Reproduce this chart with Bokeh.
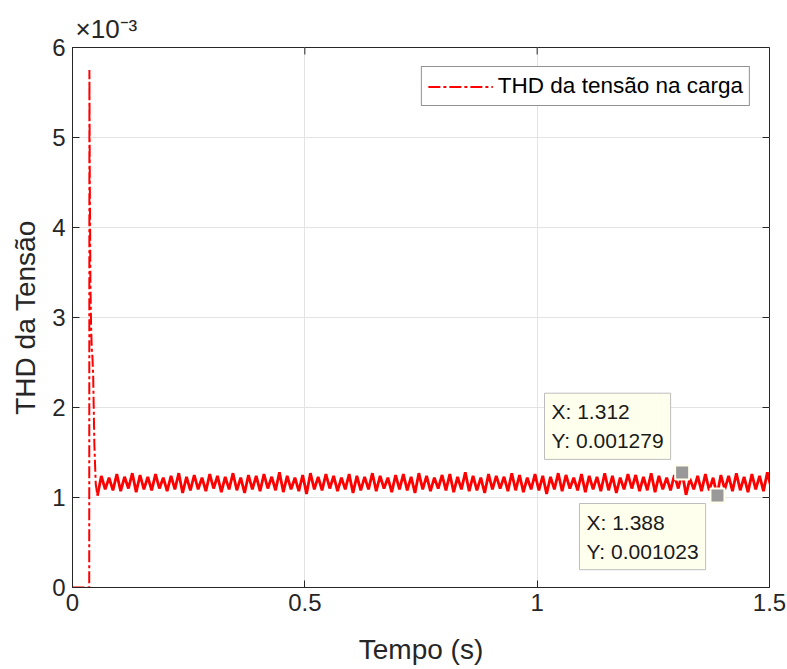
from bokeh.plotting import figure
from bokeh.models import Range1d, FixedTicker, Label, ColumnDataSource, LegendItem, Legend
from bokeh.embed import file_html
from bokeh.resources import INLINE

# ---- data (values in units of 1e-3) ----
spike_t = [0.0, 0.0360, 0.0364, 0.0372, 0.0385, 0.0400, 0.0415, 0.0430, 0.0445, 0.0470, 0.0500, 0.0537]
spike_v = [0.0, 0.0, 5.75, 4.6, 3.4, 2.9, 2.65, 2.55, 2.35, 1.6, 1.15, 1.02]

osc_start = 0.0537
osc_step = 1.0 / 120.0
osc_v = [
    1.02, 1.24, 1.09, 1.22, 1.08, 1.26, 1.07, 1.23, 1.10, 1.27,
    1.06, 1.25, 1.09, 1.23, 1.08, 1.26, 1.10, 1.22, 1.07, 1.24,
    1.09, 1.27, 1.05, 1.23, 1.08, 1.25, 1.09, 1.22, 1.07, 1.26,
    1.10, 1.24, 1.06, 1.23, 1.09, 1.27, 1.08, 1.22, 1.05, 1.25,
    1.09, 1.24, 1.07, 1.26, 1.10, 1.23, 1.08, 1.28, 1.06, 1.24,
    1.09, 1.22, 1.07, 1.25, 1.04, 1.27, 1.09, 1.23, 1.08, 1.26,
    1.10, 1.24, 1.07, 1.22, 1.09, 1.26, 1.05, 1.24, 1.08, 1.23,
    1.09, 1.27, 1.07, 1.24, 1.10, 1.22, 1.06, 1.25, 1.09, 1.26,
    1.08, 1.23, 1.05, 1.27, 1.09, 1.24, 1.07, 1.22, 1.10, 1.25,
    1.08, 1.26, 1.06, 1.23, 1.09, 1.28, 1.07, 1.24, 1.08, 1.22,
    1.05, 1.26, 1.09, 1.24, 1.10, 1.23, 1.07, 1.27, 1.08, 1.25,
    1.06, 1.22, 1.09, 1.26, 1.08, 1.24, 1.04, 1.23, 1.09, 1.27,
    1.07, 1.25, 1.10, 1.22, 1.08, 1.26, 1.06, 1.24, 1.09, 1.23,
    1.07, 1.27, 1.08, 1.24, 1.05, 1.22, 1.09, 1.26, 1.10, 1.25,
    1.07, 1.23, 1.08, 1.27, 1.06, 1.24, 1.09, 1.22, 1.08, 1.25,
    1.10, 1.279, 1.03, 1.21, 1.09, 1.24, 1.07, 1.26, 1.08, 1.22,
    1.023, 1.25, 1.09, 1.24, 1.07, 1.27, 1.08, 1.23, 1.06, 1.26,
    1.09, 1.24, 1.07, 1.28, 1.10,
]

dt_x = [1.312, 1.388]
dt_y = [1.279, 1.023]
dt_text = ["X: 1.312\nY: 0.001279", "X: 1.388\nY: 0.001023"]

x_ticks = [0, 0.5, 1, 1.5]
x_tick_labels = ["0", "0.5", "1", "1.5"]
y_ticks = [0, 1, 2, 3, 4, 5, 6]
y_tick_labels = ["0", "1", "2", "3", "4", "5", "6"]
y_exponent = "×10⁻³"

series_label = "THD da tensão na carga"
x_label = "Tempo (s)"
y_label = "THD da Tensão"

# ---- build ----
X0, X1, Y0, Y1 = 0.0, 1.5, 0.0, 6.0
W, H = 787, 669
BL, BR, BT, BB = 72, 18, 47, 82
TICK = 7  # px

spike_src = ColumnDataSource(dict(t=spike_t, v=spike_v))
osc_src = ColumnDataSource(dict(t=[osc_start + i * osc_step for i in range(len(osc_v))], v=osc_v))

FONT = "Liberation Sans"
AX = "#262626"

p = figure(width=W, height=H, output_backend="svg", toolbar_location=None,
           x_range=Range1d(X0, X1), y_range=Range1d(Y0, Y1),
           min_border_left=BL, min_border_right=BR, min_border_top=BT, min_border_bottom=BB,
           background_fill_color="white", border_fill_color="white")
p.outline_line_color = AX
p.outline_line_width = 1

r_spike = p.line("t", "v", source=spike_src, line_color="#FF0000", line_width=2, line_dash="12 3 3 3")
r_osc = p.line("t", "v", source=osc_src, line_color="#FF0000", line_width=2.8)

p.scatter(x=dt_x, y=dt_y, marker="square", size=14, fill_color="#999999",
          line_color="#FFFFEE", line_width=2)

for ax, ticks, labels in ((p.xaxis[0], x_ticks, x_tick_labels), (p.yaxis[0], y_ticks, y_tick_labels)):
    ax.ticker = FixedTicker(ticks=ticks)
    ax.major_label_overrides = {t: l for t, l in zip(ticks, labels)}
    ax.major_label_text_font = FONT
    ax.major_label_text_font_size = "24px"
    ax.major_label_text_color = AX
    ax.axis_label_text_font = FONT
    ax.axis_label_text_font_size = "28px"
    ax.axis_label_text_font_style = "normal"
    ax.axis_label_text_color = AX
    ax.axis_line_color = AX
    ax.major_tick_line_color = AX
    ax.major_tick_in = TICK
    ax.major_tick_out = 0
    ax.minor_tick_line_color = None
p.xaxis[0].axis_label = x_label
p.yaxis[0].axis_label = y_label
p.xaxis[0].major_label_standoff = 6
p.yaxis[0].major_label_standoff = 7
p.xaxis[0].axis_label_standoff = 20
p.yaxis[0].axis_label_standoff = 8

# inward ticks on the top and right edges of the box
dx_tick = TICK * (X1 - X0) / (W - BL - BR)
dy_tick = TICK * (Y1 - Y0) / (H - BT - BB)
p.segment(x0=x_ticks, y0=[Y1] * len(x_ticks), x1=x_ticks, y1=[Y1 - dy_tick] * len(x_ticks),
          line_color=AX, line_width=1)
p.segment(x0=[X1] * len(y_ticks), y0=y_ticks, x1=[X1 - dx_tick] * len(y_ticks), y1=y_ticks,
          line_color=AX, line_width=1)

p.xgrid.ticker = FixedTicker(ticks=x_ticks)
p.ygrid.ticker = FixedTicker(ticks=y_ticks)
p.xgrid.grid_line_color = "#E3E3E3"
p.ygrid.grid_line_color = "#E3E3E3"

# exponent as the (left aligned) title
p.title.text = y_exponent
p.title.align = "left"
p.title.offset = 3
p.title.text_font = FONT
p.title.text_font_size = "26px"
p.title.text_font_style = "normal"
p.title.text_color = AX
p.title.standoff = 7

# data tips
tip_pos = [(1.0158, 2.159), (1.0911, 0.9333)]
for (tx, ty), txt in zip(tip_pos, dt_text):
    p.add_layout(Label(x=tx, y=ty, text=txt, text_font=FONT, text_font_size="21px",
                       text_color="#1A1A1A", text_align="left", text_baseline="top",
                       text_line_height=1.27, padding=7,
                       background_fill_color="#FFFFEE", border_line_color="#BDBDBD",
                       border_line_width=1))

lg = Legend(items=[LegendItem(label=series_label, renderers=[r_spike])])
p.add_layout(lg)
lg.location = "top_right"
lg.margin = 19
lg.padding = 6
lg.spacing = 0
lg.glyph_width = 65
lg.glyph_height = 23
lg.label_height = 23
lg.label_standoff = 5
lg.label_text_font = FONT
lg.label_text_font_size = "22.5px"
lg.label_text_color = "#000000"
lg.border_line_color = AX
lg.border_line_width = 1
lg.background_fill_alpha = 1.0

open("out.html", "w").write(file_html(p, INLINE))
